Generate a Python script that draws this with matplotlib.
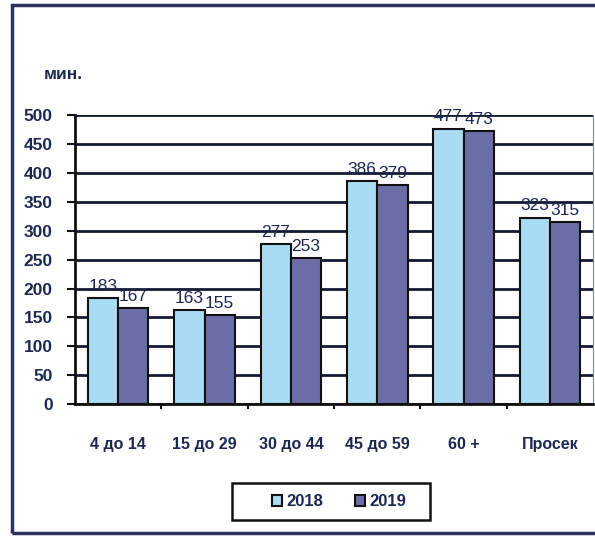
import matplotlib
matplotlib.use("Agg")
import matplotlib.pyplot as plt
import numpy as np
from matplotlib.patches import Rectangle

plt.rcParams['font.family'] = ['Liberation Sans', 'DejaVu Sans']

categories = ['4 до 14', '15 до 29', '30 до 44', '45 до 59', '60 +', 'Просек']
y2018 = [183, 163, 277, 386, 477, 323]
y2019 = [167, 155, 253, 379, 473, 315]
yticks = list(range(0, 501, 50))

c2018 = '#a9dcf3'
c2019 = '#6b6ea6'
txt = '#1c2752'
grid = '#141a33'

fig = plt.figure(figsize=(5.95, 5.36), dpi=100)
ax = fig.add_axes([0.126, 0.246, 0.871, 0.539])

x = np.arange(len(categories))
w = 0.35
b1 = ax.bar(x - w / 2, y2018, w, color=c2018, edgecolor='#111111', linewidth=1.5, zorder=3, label='2018')
b2 = ax.bar(x + w / 2, y2019, w, color=c2019, edgecolor='#111111', linewidth=1.5, zorder=3, label='2019')

for bars, vals in ((b1, y2018), (b2, y2019)):
    for r, v in zip(bars, vals):
        ax.text(r.get_x() + r.get_width() / 2, v + 7, str(v), ha='center', va='bottom',
                fontsize=12.5, color=txt, zorder=4)

ax.set_xlim(-0.5, len(categories) - 0.5)
ax.set_ylim(0, 500)
ax.set_yticks(yticks)
ax.set_yticklabels([str(t) for t in yticks], fontsize=12.5, fontweight='bold', color=txt)
ax.yaxis.grid(True, color=grid, linewidth=2, zorder=1)
ax.set_axisbelow(True)

# category labels between boundary ticks
ax.set_xticks(x)
ax.set_xticklabels(categories, fontsize=11.5, fontweight='bold', color=txt)
ax.tick_params(axis='x', length=0, pad=24)
for b in np.arange(0.5, len(categories) - 0.5, 1):
    ax.plot([b, b], [0, -6], color='#111111', lw=1.5, clip_on=False, zorder=5)
ax.tick_params(axis='y', length=6, width=1.5, color='#111111', direction='out', pad=10)

ax.spines['top'].set_visible(False)
ax.spines['right'].set_color('#7d86c8')
ax.spines['right'].set_linewidth(0.8)
ax.spines['left'].set_linewidth(2)
ax.spines['left'].set_color('#111111')
ax.spines['bottom'].set_linewidth(2)
ax.spines['bottom'].set_color('#111111')

fig.text(0.074, 0.852, 'мин.', fontsize=12.5, fontweight='bold', color=txt)

# legend without its own frame, box drawn separately
leg = fig.legend(handles=[b1, b2], loc='center', bbox_to_anchor=(0.570, 0.064), ncol=2,
                 frameon=False, fontsize=12, handlelength=0.6, handleheight=0.6,
                 handletextpad=0.25, columnspacing=1.9)
for t in leg.get_texts():
    t.set_color(txt)
    t.set_fontweight('bold')
fig.patches.append(Rectangle((232 / 595, 1 - 520 / 536), 198 / 595, 37 / 536,
                             transform=fig.transFigure, fill=False,
                             edgecolor='#111111', linewidth=1.8))

fig.patches.append(Rectangle((0.02, 0.005), 0.985, 0.985, transform=fig.transFigure,
                             fill=False, edgecolor='#2a3260', linewidth=2.5))

fig.savefig('out.png', dpi=100)
